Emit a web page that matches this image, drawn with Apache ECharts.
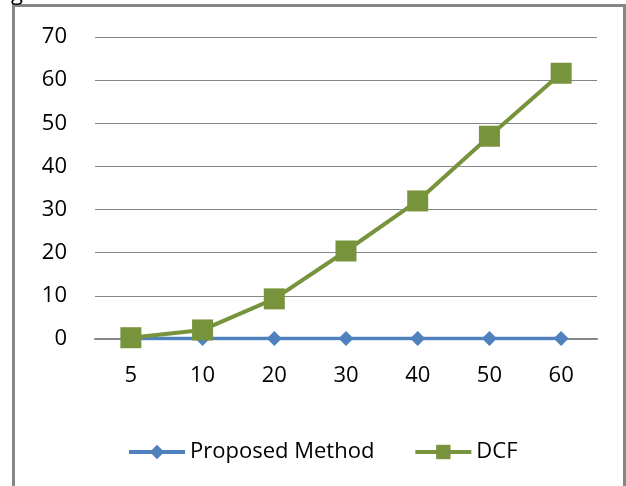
<!DOCTYPE html>
<html>
<head>
<meta charset="utf-8">
<script src="https://cdn.jsdelivr.net/npm/echarts@6/dist/echarts.min.js"></script>
<style>
  html, body { margin: 0; padding: 0; background: #fff; }
  #chart { width: 626px; height: 486px; }
</style>
</head>
<body>
<div id="chart"></div>
<script>
// Categories along the x axis
const categories = ['5', '10', '20', '30', '40', '50', '60'];
// Series values
const proposedMethod = [0.1, 0.1, 0.1, 0.1, 0.1, 0.1, 0.1];
const dcf = [0.3, 2.1, 9.3, 20.4, 32.0, 47.0, 61.6];
// Value axis range
const yMin = 0, yMax = 70, yStep = 10;

const font = 'Open Sans';
const chart = echarts.init(document.getElementById('chart'), null, { renderer: 'canvas' });

chart.setOption({
  animation: false,
  backgroundColor: '#ffffff',
  graphic: [
    {
      type: 'rect',
      shape: { x: 13.5, y: 5.5, width: 611, height: 490 },
      style: { fill: 'none', stroke: '#868686', lineWidth: 3 }
    },
    {
      type: 'text',
      left: 11, top: -17,
      style: { text: 'g', font: '22px "Open Sans"', fill: '#000' }
    }
  ],
  grid: { left: 95, right: 29, top: 37, bottom: 147 },
  legend: {
    bottom: 18,
    left: 122,
    itemWidth: 56,
    itemHeight: 18,
    itemGap: 39,
    lineStyle: { width: 4 },
    textStyle: { fontFamily: font, fontSize: 22, color: '#000', padding: [0, 0, 0, 0] },
    data: ['Proposed Method', 'DCF']
  },
  xAxis: {
    type: 'category',
    data: categories,
    boundaryGap: true,
    axisLine: { lineStyle: { color: '#868686', width: 2 } },
    axisTick: { show: false },
    axisLabel: { fontFamily: font, fontSize: 22, color: '#000', margin: 26 }
  },
  yAxis: {
    type: 'value',
    min: yMin, max: yMax, interval: yStep,
    axisLine: { show: false },
    axisTick: { show: false },
    splitLine: { lineStyle: { color: '#868686', width: 1 } },
    axisLabel: { fontFamily: font, fontSize: 22, color: '#000', margin: 28 }
  },
  series: [
    {
      name: 'Proposed Method',
      type: 'line',
      data: proposedMethod,
      symbol: 'diamond',
      symbolSize: 15,
      itemStyle: { color: '#4F81BD' },
      lineStyle: { color: '#4F81BD', width: 3.5 }
    },
    {
      name: 'DCF',
      type: 'line',
      data: dcf,
      symbol: 'rect',
      symbolSize: 21,
      itemStyle: { color: '#77933C' },
      lineStyle: { color: '#77933C', width: 4 }
    }
  ]
});
</script>
</body>
</html>
